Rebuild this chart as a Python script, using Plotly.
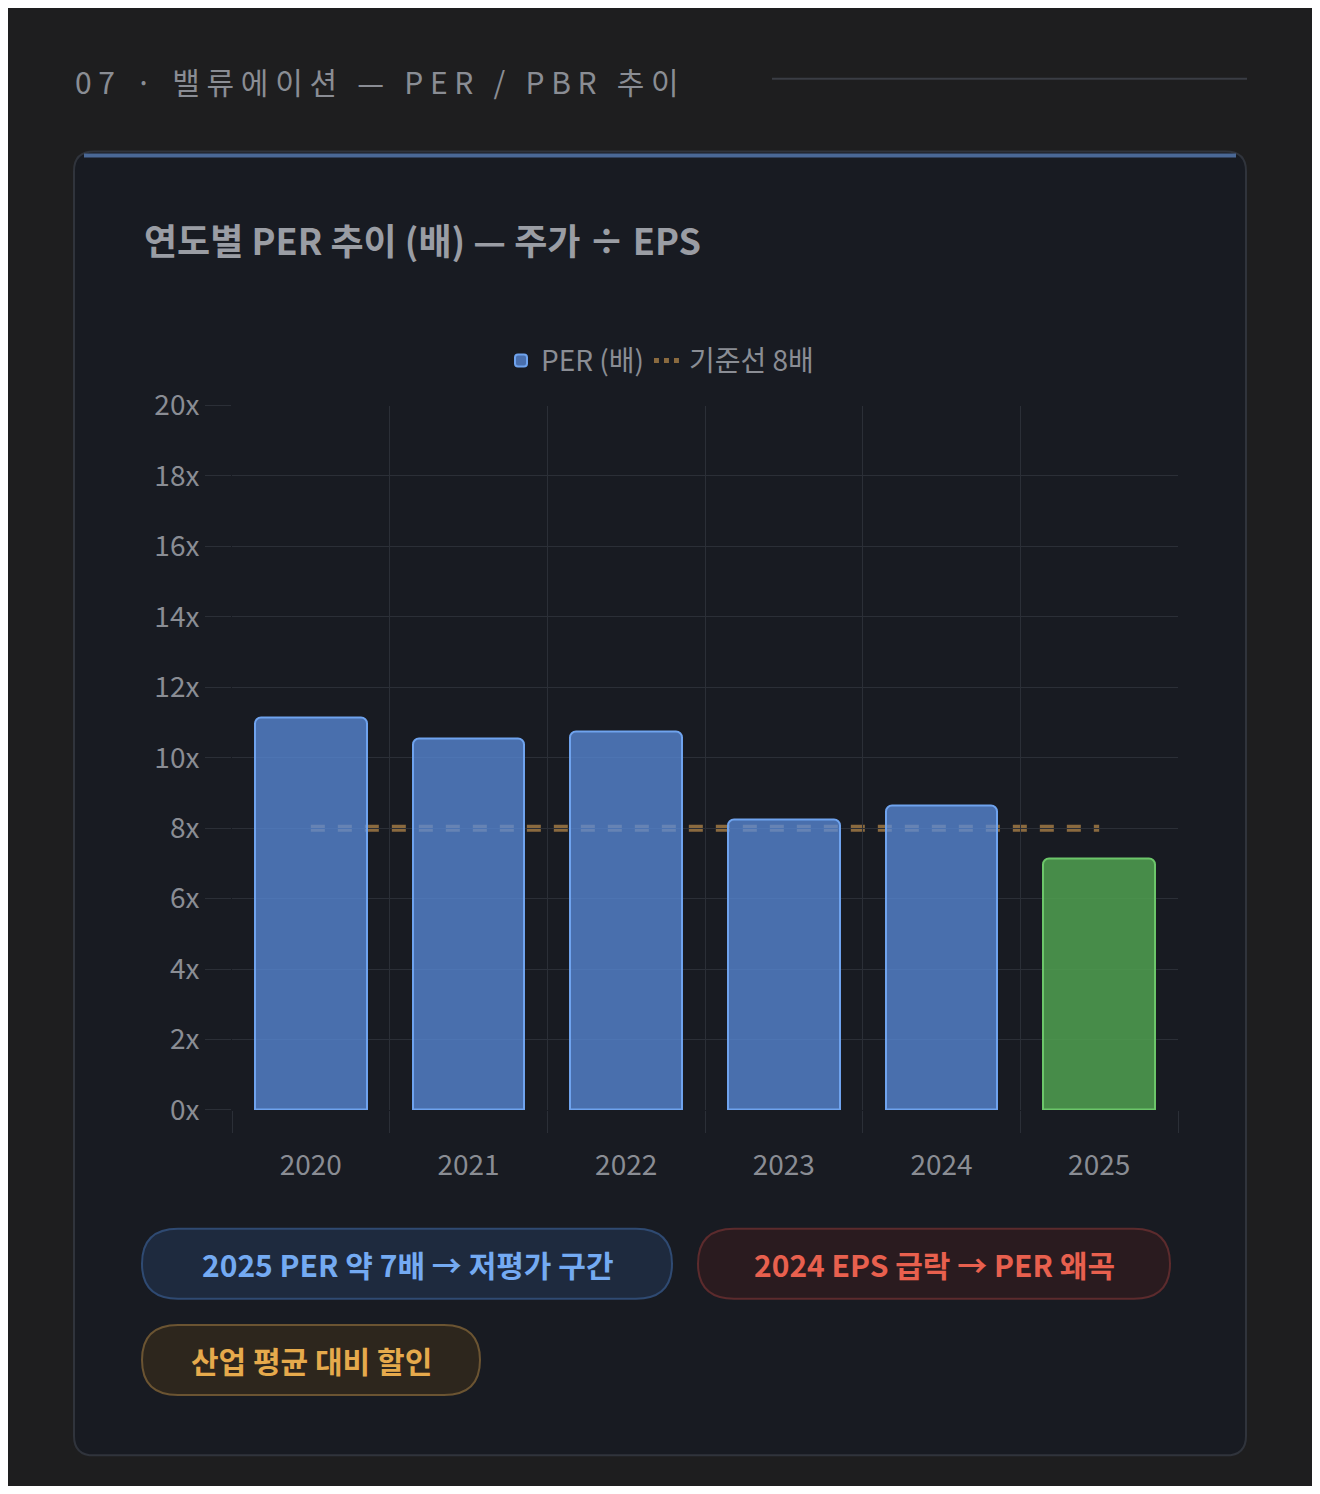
import plotly.graph_objects as go

years = ["2020", "2021", "2022", "2023", "2024", "2025"]
per = [11.15, 10.55, 10.75, 8.25, 8.65, 7.15]
baseline = 8
y_ticks = [0, 2, 4, 6, 8, 10, 12, 14, 16, 18, 20]
badges = [
    ("2025 PER 약 7배 → 저평가 구간", 142, 672, 1240, 1312, "#1e2a3e", "#2f4a72", "#74aaf2"),
    ("2024 EPS 급락 → PER 왜곡", 698, 1170, 1240, 1312, "#2a1b1f", "#5c2b2d", "#e8604e"),
    ("산업 평균 대비 할인", 142, 480, 1339, 1411, "#2d261d", "#6b5432", "#e6aa4c"),
]

OFF = 8  # page body margin
W, H = 1320 - 2 * OFF, 1494 - 2 * OFF
FONT = "Noto Sans CJK KR"


def px(x):
    return (x - OFF) / W


def py(y):
    return 1 - (y - OFF) / H


def pill(x0, x1, y0, y1, r):
    # rounded rectangle path in paper coords
    p = (f"M {px(x0 + r)},{py(y0)} L {px(x1 - r)},{py(y0)} "
         f"Q {px(x1)},{py(y0)} {px(x1)},{py(y0 + r)} L {px(x1)},{py(y1 - r)} "
         f"Q {px(x1)},{py(y1)} {px(x1 - r)},{py(y1)} L {px(x0 + r)},{py(y1)} "
         f"Q {px(x0)},{py(y1)} {px(x0)},{py(y1 - r)} L {px(x0)},{py(y0 + r)} "
         f"Q {px(x0)},{py(y0)} {px(x0 + r)},{py(y0)} Z")
    return p


colors = ["rgba(90,140,220,0.75)"] * 5 + ["rgba(80,160,80,0.85)"]
edges = ["#6fa3ee"] * 5 + ["#6cc66a"]

fig = go.Figure()
fig.add_trace(go.Bar(
    x=list(range(len(years))), y=per, width=0.71, name="PER (배)",
    marker=dict(color=colors, line=dict(color=edges, width=2), cornerradius=6),
))
fig.add_trace(go.Scatter(
    x=[None], y=[None], mode="lines", name="기준선 8배",
    line=dict(color="#8a6a3f", width=6, dash="dot"),
))

shapes = [
    # card
    dict(type="path", xref="paper", yref="paper", path=pill(74, 1246, 133, 1473, 20),
         fillcolor="#181b22", line=dict(color="#30343c", width=2), layer="below"),
    dict(type="line", xref="paper", yref="paper", x0=px(84), x1=px(1236), y0=py(137), y1=py(137),
         line=dict(color="#4a6896", width=4), layer="below"),
    # header rule
    dict(type="line", xref="paper", yref="paper", x0=px(772), x1=px(1247), y0=py(58), y1=py(58),
         line=dict(color="#3a3d44", width=2)),
    # baseline behind bars
    dict(type="line", xref="x", yref="y", x0=0, x1=5, y0=baseline, y1=baseline,
         line=dict(color="#8a6a3f", width=7, dash="14px,13px"), layer="below"),
]
annotations = [
    dict(text="0 7   ·   밸 류 에 이 션   —   P E R   /   P B R   추 이", x=px(73), y=py(60),
         xref="paper", yref="paper", xanchor="left", yanchor="middle", showarrow=False,
         font=dict(family=FONT, size=30, color="#8a8d94")),
    dict(text="연도별 PER 추이 (배) — 주가 ÷ EPS", x=px(142), y=py(223),
         xref="paper", yref="paper", xanchor="left", yanchor="middle", showarrow=False,
         font=dict(family=FONT, size=36, color="#9a9da4", weight=600)),
]
for text, x0, x1, y0, y1, fill, border, tc in badges:
    shapes.append(dict(type="path", xref="paper", yref="paper", path=pill(x0, x1, y0, y1, 36),
                       fillcolor=fill, line=dict(color=border, width=2)))
    annotations.append(dict(text=f"<b>{text}</b>", x=px((x0 + x1) / 2), y=py((y0 + y1) / 2),
                            xref="paper", yref="paper", xanchor="center", yanchor="middle",
                            showarrow=False, font=dict(family=FONT, size=30, color=tc)))

fig.update_layout(
    width=W, height=H, margin=dict(l=0, r=0, t=0, b=0),
    paper_bgcolor="#1e1e1f", plot_bgcolor="rgba(0,0,0,0)",
    font=dict(family=FONT, color="#8a8d94"),
    shapes=shapes, annotations=annotations, showlegend=True, bargap=0,
    legend=dict(orientation="h", x=0.5, xanchor="center", y=py(348), yanchor="middle",
                font=dict(size=28, color="#8a8d94"), bgcolor="rgba(0,0,0,0)",
                itemsizing="constant"),
    xaxis=dict(domain=[px(232), px(1178)], range=[-0.5, 5.5], tickvals=list(range(6)),
               ticktext=years, showgrid=False, zeroline=False, ticks="",
               ticklabelstandoff=36,
               tickfont=dict(size=28, color="#8a8d94"),
               minor=dict(tickvals=[i - 0.5 for i in range(7)], showgrid=True,
                          gridcolor="#2b2f37", gridwidth=1, ticks="outside",
                          ticklen=22, tickcolor="#2b2f37")),
    yaxis=dict(domain=[py(1118), py(394)], range=[0, 20], tickvals=y_ticks,
               ticktext=[f"{v}x" for v in y_ticks], gridcolor="#2b2f37", zeroline=False,
               ticks="outside", ticklen=26, tickcolor="#2b2f37",
               tickfont=dict(size=28, color="#8a8d94")),
)

fig.write_html("out.html")
